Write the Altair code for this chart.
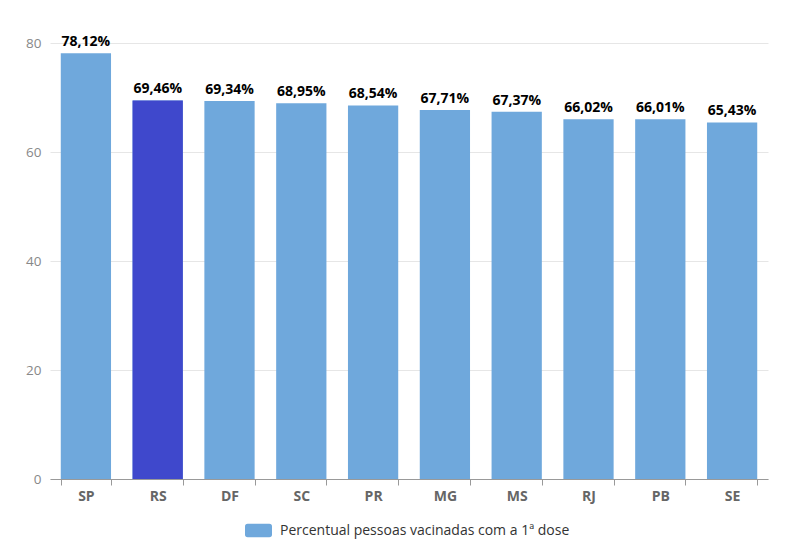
import altair as alt
import pandas as pd

# --- data ---------------------------------------------------------
estados = ["SP", "RS", "DF", "SC", "PR", "MG", "MS", "RJ", "PB", "SE"]
percentual = [78.12, 69.46, 69.34, 68.95, 68.54, 67.71, 67.37, 66.02, 66.01, 65.43]
destaque = "RS"
serie = "Percentual pessoas vacinadas com a 1ª dose"

df = pd.DataFrame({"estado": estados, "valor": percentual})
df["rotulo"] = df["valor"].map(lambda v: f"{v:.2f}".replace(".", ",") + "%")
df["serie"] = serie

FONT = "Open Sans"

x_enc = alt.X(
    "estado:N",
    sort=estados,
    title=None,
    scale=alt.Scale(paddingInner=0.3, paddingOuter=0.15),
    axis=alt.Axis(
        labelAngle=0,
        labelFont=FONT,
        labelFontSize=14,
        labelFontWeight="bold",
        labelColor="#666666",
        labelPadding=4,
        domainColor="#999999",
        tickColor="#999999",
        tickSize=6,
        tickBand="extent",
        grid=False,
    ),
)
y_enc = alt.Y(
    "valor:Q",
    title=None,
    scale=alt.Scale(domain=[0, 80], nice=False),
    axis=alt.Axis(
        values=[0, 20, 40, 60, 80],
        labelFont=FONT,
        labelFontSize=13.5,
        labelColor="#888888",
        labelPadding=9,
        domain=False,
        ticks=False,
        gridColor="#e6e6e6",
    ),
)

# rectangle with rounded corners for the legend symbol
rounded = ("M-0.8,-0.5 L0.8,-0.5 Q1,-0.5 1,-0.3 L1,0.3 Q1,0.5 0.8,0.5 "
           "L-0.8,0.5 Q-1,0.5 -1,0.3 L-1,-0.3 Q-1,-0.5 -0.8,-0.5 Z")

bars = alt.Chart(df).mark_bar().encode(
    x=x_enc,
    y=y_enc,
    color=alt.Color(
        "serie:N",
        title=None,
        scale=alt.Scale(range=["#6fa8dc"]),
        legend=alt.Legend(
            orient="none",
            legendX=195,
            legendY=474,
            symbolType=rounded,
            symbolSize=729,
            symbolStrokeWidth=0,
            symbolOpacity=1,
            labelFont=FONT,
            labelFontSize=14,
            labelColor="#333333",
            labelOffset=8,
            labelLimit=400,
        ),
    ),
)

highlight = alt.Chart(df[df["estado"] == destaque]).mark_bar(color="#3f48cc").encode(
    x=alt.X("estado:N", sort=estados),
    y="valor:Q",
)

labels = alt.Chart(df).mark_text(
    baseline="bottom",
    dy=-4,
    font=FONT,
    fontSize=14,
    fontWeight="bold",
    color="#000000",
).encode(
    x=alt.X("estado:N", sort=estados),
    y="valor:Q",
    text="rotulo:N",
)

chart = (bars + highlight + labels).properties(
    width=718,
    height=436,
    autosize=alt.AutoSizeParams(type="none"),
    padding={"left": 42, "top": 35, "right": 24, "bottom": 67},
).configure(background="white").configure_view(stroke=None)

chart.save("out.html", embed_options={"renderer": "svg", "actions": False})
